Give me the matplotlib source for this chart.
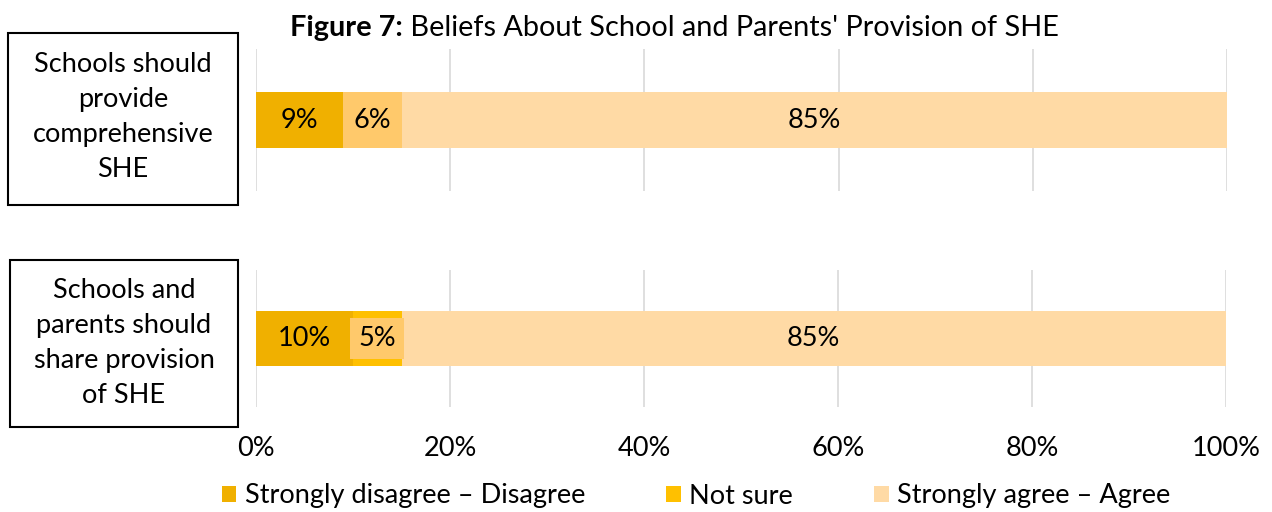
import matplotlib
matplotlib.use("Agg")
import matplotlib.pyplot as plt
from matplotlib.patches import Patch, Rectangle

plt.rcParams["font.family"] = ["Lato", "DejaVu Sans"]

statements = ["Schools should\nprovide\ncomprehensive\nSHE",
              "Schools and\nparents should\nshare provision\nof SHE"]
disagree = [9, 10]
not_sure = [6, 5]
agree = [85, 85]
series_names = ["Strongly disagree \u2013 Disagree", "Not sure", "Strongly agree \u2013 Agree"]
ticks = [0, 20, 40, 60, 80, 100]

C_DIS = "#F0B000"
C_NS = "#FFC000"
C_AG = "#FFDAA5"
C_NS_LABEL = "#FFC96B"
GRID = "#D9D9D9"

# the first panel's "not sure" segment was shaded light; the second keeps a boxed label
ns_fill = [C_NS_LABEL, C_NS]
ns_boxed = [False, True]

W, H = 1272, 512
fig = plt.figure(figsize=(W / 100, H / 100), dpi=100)

# each statement is its own little panel: (axes rect, label box rect, text centre y) in pixels
panels = [((256, 49, 971, 142), (8, 33, 230, 172), 117),
          ((256, 270, 970, 137), (10, 260, 228, 167), 343)]

FS = 19.5
for i, ((x0, y0, w, h), (bx, by, bw, bh), ty) in enumerate(panels):
    ax = fig.add_axes([x0 / W, 1 - (y0 + h) / H, w / W, h / H])
    ax.set_xlim(0, 100)
    ax.set_ylim(-0.5, 0.5)
    for s in ax.spines.values():
        s.set_visible(False)
    ax.set_xticks(ticks)
    ax.set_yticks([])
    ax.grid(axis="x", color=GRID, lw=1.2)
    ax.set_axisbelow(True)
    ax.tick_params(axis="x", length=0, pad=21, labelsize=FS)
    if i == len(panels) - 1:
        ax.set_xticklabels([f"{t}%" for t in ticks])
    else:
        ax.set_xticklabels([])

    left = 0
    segs = [(disagree[i], C_DIS, False), (not_sure[i], ns_fill[i], ns_boxed[i]), (agree[i], C_AG, False)]
    for val, col, boxed in segs:
        ax.barh(0, val, left=left, height=0.4, color=col, lw=0)
        kw = {}
        if boxed:
            kw["bbox"] = dict(boxstyle="square,pad=0.3", fc=C_NS_LABEL, ec="none")
        ax.text(left + val / 2, 0, f"{val}%", ha="center", va="center",
                fontsize=FS, color="black", **kw)
        left += val

    fig.patches.append(Rectangle((bx / W, 1 - (by + bh) / H), bw / W, bh / H,
                                 transform=fig.transFigure, fill=False,
                                 ec="black", lw=1.5))
    fig.text((bx + bw / 2) / W, 1 - ty / H, statements[i],
             ha="center", va="center", fontsize=FS, linespacing=1.5)

# title: bold lead-in, then the regular text placed right after it
TY = 1 - 36 / H
t1 = fig.text(290 / W, TY, "Figure 7:", fontsize=20.8, fontweight="bold",
              ha="left", va="baseline")
fig.canvas.draw()
bb = t1.get_window_extent()
fig.text(bb.x1 / W, TY, " Beliefs About School and Parents' Provision of SHE",
         fontsize=20.8, ha="left", va="baseline")

handles = [Patch(fc=c, ec="none") for c in (C_DIS, C_NS, C_AG)]
fig.legend(handles, series_names, loc="center", bbox_to_anchor=(696 / W, 1 - 496 / H),
           ncol=3, frameon=False, fontsize=FS, handlelength=0.55, handleheight=0.55,
           handletextpad=0.3, columnspacing=3.0, borderaxespad=0, borderpad=0)

fig.savefig("out.png", dpi=100)
